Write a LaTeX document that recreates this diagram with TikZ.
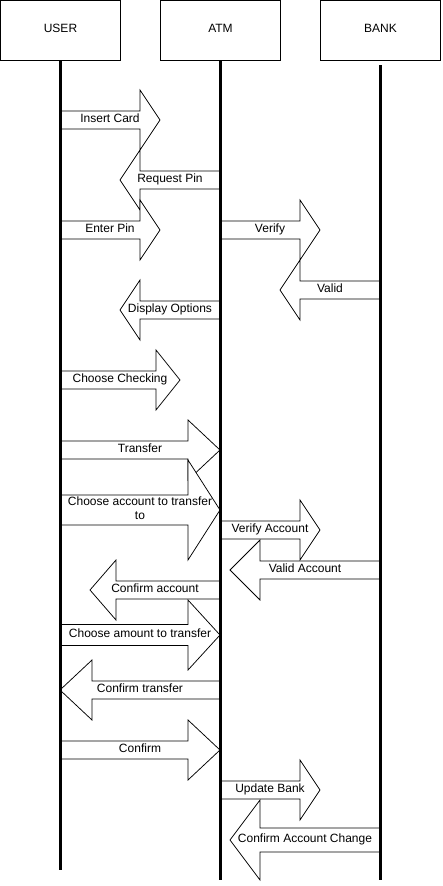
\documentclass[tikz,border=0pt]{standalone}
\usepackage{fontspec}
\setmainfont{Liberation Sans}
\newcommand{\blockarrow}[7]{%
  \pgfmathsetmacro{\bx}{#2-0.2*(#2-#1)}%
  \draw[arrowshape] (#1,{#3-#5/2}) -- (\bx,{#3-#5/2}) -- (\bx,{#3-#4/2}) -- (#2,#3)
     -- (\bx,{#3+#4/2}) -- (\bx,{#3+#5/2}) -- (#1,{#3+#5/2}) -- cycle;
  \node[lbl] (#6) at ({(#1+#2)/2},{#3+2.3}) {#7};
}
\begin{document}
\begin{tikzpicture}[x=1pt,y=-1pt,
  actor/.style={draw,line width=1pt,minimum width=120pt,minimum height=60pt,inner sep=0pt,
    font=\fontsize{12}{14}\selectfont,text height=8.6pt,text depth=4pt},
  lifeline/.style={line width=3pt},
  arrowshape/.style={draw,fill=white,line width=0.75pt,line join=miter},
  lbl/.style={anchor=base,inner sep=0pt,font=\fontsize{12}{14}\selectfont},
  lbltwo/.style={anchor=center,inner sep=0pt,align=center,font=\fontsize{12}{14}\selectfont}]
\useasboundingbox (0,0) rectangle (442,886);
\fill[white] (0,0) rectangle (442,886);

\node[actor] (user) at (60.5,30.5) {USER};
\node[actor] (atm) at (220.5,30.5) {ATM};
\node[actor] (bank) at (380.5,30.5) {BANK};

\coordinate (userEnd) at (60.5,870);
\coordinate (atmEnd) at (220.5,880);
\coordinate (bankTop) at (380.5,65);
\coordinate (bankEnd) at (380.5,880);

\blockarrow{60}{160}{120}{60}{18}{m1}{Insert Card}
\blockarrow{220}{120}{180}{60}{18}{m2}{Request Pin}
\blockarrow{60}{160}{230}{60}{18}{m3}{Enter Pin}
\blockarrow{220}{320}{230}{60}{18}{m4}{Verify}
\blockarrow{380}{280}{290}{60}{18}{m5}{Valid}
\blockarrow{220}{120}{310}{60}{18}{m6}{Display Options}
\blockarrow{60}{180}{380}{60}{18}{m7}{Choose Checking}
\blockarrow{60}{220}{450}{60}{18}{m8}{Transfer}
\pgfmathsetmacro{\bx}{188}
\draw[arrowshape] (60,495) -- (188,495) -- (188,460) -- (220,510) -- (188,560) -- (188,525) -- (60,525) -- cycle;
\node[lbltwo] (m9) at (140,508.6) {Choose account to transfer\\to};
\blockarrow{220}{320}{530}{60}{18}{m10}{Verify Account}
\blockarrow{380}{230}{570}{60}{18}{m11}{Valid Account}
\blockarrow{220}{90}{590}{60}{18}{m12}{Confirm account}
\blockarrow{60}{220}{635}{70}{21}{m13}{Choose amount to transfer}
\blockarrow{220}{60}{690}{60}{18}{m14}{Confirm transfer}
\blockarrow{60}{220}{750}{60}{18}{m15}{Confirm}
\blockarrow{220}{320}{790}{60}{18}{m16}{Update Bank}
\blockarrow{380}{230}{840}{80}{24}{m17}{Confirm Account Change}

\draw[lifeline] (user.south) -- (userEnd);
\draw[lifeline] (atm.south) -- (atmEnd);
\draw[lifeline] (bankTop) -- (bankEnd);
\end{tikzpicture}
\end{document}
